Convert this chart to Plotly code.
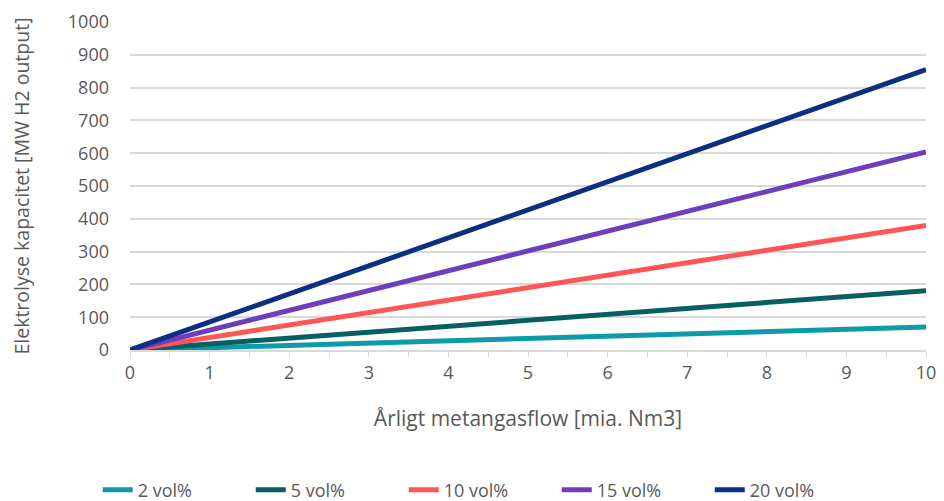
import plotly.graph_objects as go

# Årligt metangasflow [mia. Nm3]
flow = [0, 10]

# Elektrolyse kapacitet [MW H2 output] per series
series_names = ["2 vol%", "5 vol%", "10 vol%", "15 vol%", "20 vol%"]
capacity = [
    [0, 70],
    [0, 181],
    [0, 380],
    [0, 604],
    [0, 855],
]
colors = ["#0E9BA8", "#055F63", "#FF5555", "#6F3EBF", "#0D2F83"]

FONT = "Open Sans, Calibri, Liberation Sans, sans-serif"
GREY = "#595959"

fig = go.Figure()
for name, ys, col in zip(series_names, capacity, colors):
    fig.add_trace(
        go.Scatter(
            x=flow,
            y=ys,
            mode="lines",
            name=name,
            line={"color": col, "width": 5},
        )
    )

# page has an 8px body margin, so the figure is shrunk by that much
fig.update_layout(
    width=936,
    height=493,
    autosize=False,
    margin={"l": 122, "r": 18, "t": 14, "b": 151, "autoexpand": False},
    paper_bgcolor="white",
    plot_bgcolor="white",
    font={"family": FONT, "color": GREY, "size": 18},
    showlegend=True,
    legend={
        "orientation": "h",
        "x": 0.44,
        "xanchor": "center",
        "y": -0.427,
        "yanchor": "middle",
        "font": {"size": 18, "color": GREY},
        "entrywidth": 108,
        "entrywidthmode": "pixels",
        "itemwidth": 30,
    },
    xaxis={
        "range": [0, 10],
        "dtick": 1,
        "showgrid": False,
        "zeroline": False,
        "showline": True,
        "linecolor": "#d9d9d9",
        "linewidth": 1.5,
        "ticks": "outside",
        "ticklen": 6,
        "tickcolor": "#d9d9d9",
        "ticklabeloverflow": "allow",
        "minor": {"dtick": 0.5, "ticks": "outside", "ticklen": 6, "tickcolor": "#d9d9d9"},
        "tickfont": {"size": 18},
        "title": {"text": "Årligt metangasflow [mia. Nm3]", "font": {"size": 21}, "standoff": 28},
    },
    yaxis={
        "range": [0, 1000],
        "dtick": 100,
        "showgrid": True,
        "gridcolor": "#d9d9d9",
        "gridwidth": 1.5,
        "zeroline": False,
        "showline": False,
        "ticks": "",
        "ticklabelstandoff": 20,
        "tickfont": {"size": 18},
        "title": {"text": "Elektrolyse kapacitet [MW H2 output]", "font": {"size": 19.5}, "standoff": 34},
    },
)

fig.write_html("out.html")
